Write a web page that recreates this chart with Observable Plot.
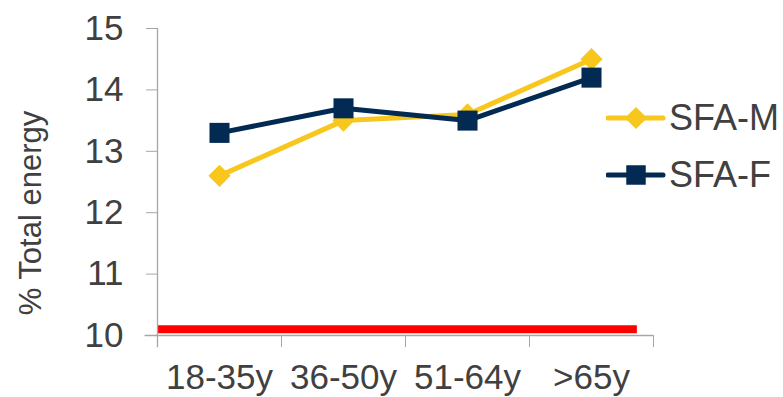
<!DOCTYPE html>
<html>
<head>
<meta charset="utf-8">
<script src="https://cdn.jsdelivr.net/npm/d3@7"></script>
<script src="https://cdn.jsdelivr.net/npm/@observablehq/plot@0.6"></script>
<style>
  html, body { margin: 0; padding: 0; background: #fff; }
  #wrap { position: relative; width: 783px; height: 397px; font-family: "Liberation Sans", Arial, sans-serif; }
  #wrap svg.plot { position: absolute; left: 0; top: 0; }
  .legend { position: absolute; left: 606px; top: 0; }
  .row { position: absolute; left: 0; display: flex; align-items: center; height: 40px; white-space: nowrap; }
  .row span { font-size: 36px; color: #404040; margin-left: 3px; line-height: 40px; }
</style>
</head>
<body>
<div id="wrap"></div>
<script>
const categories = ["18-35y", "36-50y", "51-64y", ">65y"];
const sfaM = [12.6, 13.5, 13.6, 14.5];
const sfaF = [13.3, 13.7, 13.5, 14.2];
const yTicks = [10, 11, 12, 13, 14, 15];
const referenceLevel = 10.1;
const seriesNames = ["SFA-M", "SFA-F"];
const seriesColors = ["#F7C71E", "#022A52"];
const seriesSymbols = ["diamond2", "square"];

const rows = [];
[sfaM, sfaF].forEach((vals, s) => {
  vals.forEach((v, i) => rows.push({ pos: i + 0.5, cat: categories[i], value: v, series: seriesNames[s] }));
});
const mRows = rows.filter(d => d.series === "SFA-M");
const fRows = rows.filter(d => d.series === "SFA-F");
const boundaries = d3.range(categories.length + 1);
const centers = categories.map((c, i) => i + 0.5);

const axisGray = "#A6A6A6";
const textGray = "#404040";

const chart = Plot.plot({
  width: 783,
  height: 397,
  marginLeft: 157,
  marginRight: 130,
  marginTop: 28,
  marginBottom: 62,
  style: { fontFamily: "'Liberation Sans', Arial, sans-serif", background: "white" },
  x: { domain: [0, categories.length], axis: null },
  y: { domain: [10, 15], axis: null },
  marks: [
    Plot.ruleY([referenceLevel], { x1: 0, x2: 3.87, stroke: "#FF0000", strokeWidth: 8 }),
    Plot.ruleX([0], { y1: 9.8, y2: 15, stroke: axisGray, strokeWidth: 1.3 }),
    Plot.ruleY([10], { x1: -0.1, x2: categories.length, stroke: axisGray, strokeWidth: 1.3 }),
    Plot.axisY(yTicks, { anchor: "left", tickSize: 11, tickPadding: 23, fontSize: 35, stroke: axisGray, fill: textGray, tickFormat: d => String(d), label: null }),
    Plot.axisX(boundaries, { anchor: "bottom", tickSize: 12, stroke: axisGray, tickFormat: () => "", label: null }),
    Plot.axisX(centers, { anchor: "bottom", tickSize: 0, tickPadding: 29, fontSize: 35, fill: textGray, tickFormat: d => categories[Math.floor(d)], label: null }),
    Plot.text(["% Total energy"], { frameAnchor: "left", textAnchor: "middle", rotate: -90, dx: -126, dy: 31, fontSize: 31, fill: textGray }),
    Plot.line(mRows, { x: "pos", y: "value", stroke: seriesColors[0], strokeWidth: 5 }),
    Plot.dot(mRows, { x: "pos", y: "value", symbol: seriesSymbols[0], r: 10, fill: seriesColors[0], stroke: "none" }),
    Plot.line(fRows, { x: "pos", y: "value", stroke: seriesColors[1], strokeWidth: 5 }),
    Plot.dot(fRows, { x: "pos", y: "value", symbol: seriesSymbols[1], r: 11.3, fill: seriesColors[1], stroke: "none" })
  ]
});
chart.classList.add("plot");
const wrap = document.getElementById("wrap");
wrap.appendChild(chart);

const legend = document.createElement("div");
legend.className = "legend";
const rowCenters = [118, 175];
seriesNames.forEach((name, i) => {
  const row = document.createElement("div");
  row.className = "row";
  row.style.top = (rowCenters[i] - 20) + "px";
  const sw = d3.create("svg").attr("width", 60).attr("height", 40);
  sw.append("line").attr("x1", 2).attr("x2", 57).attr("y1", 20).attr("y2", 20)
    .attr("stroke", seriesColors[i]).attr("stroke-width", 5).attr("stroke-linecap", "round");
  const sym = i === 0 ? d3.symbolDiamond2 : d3.symbolSquare;
  const size = i === 0 ? Math.PI * 10 * 10 : Math.PI * 11 * 11;
  sw.append("path").attr("transform", "translate(30,20)").attr("d", d3.symbol(sym, size)()).attr("fill", seriesColors[i]);
  row.appendChild(sw.node());
  const t = document.createElement("span");
  t.textContent = name;
  row.appendChild(t);
  legend.appendChild(row);
});
wrap.appendChild(legend);
</script>
</body>
</html>
